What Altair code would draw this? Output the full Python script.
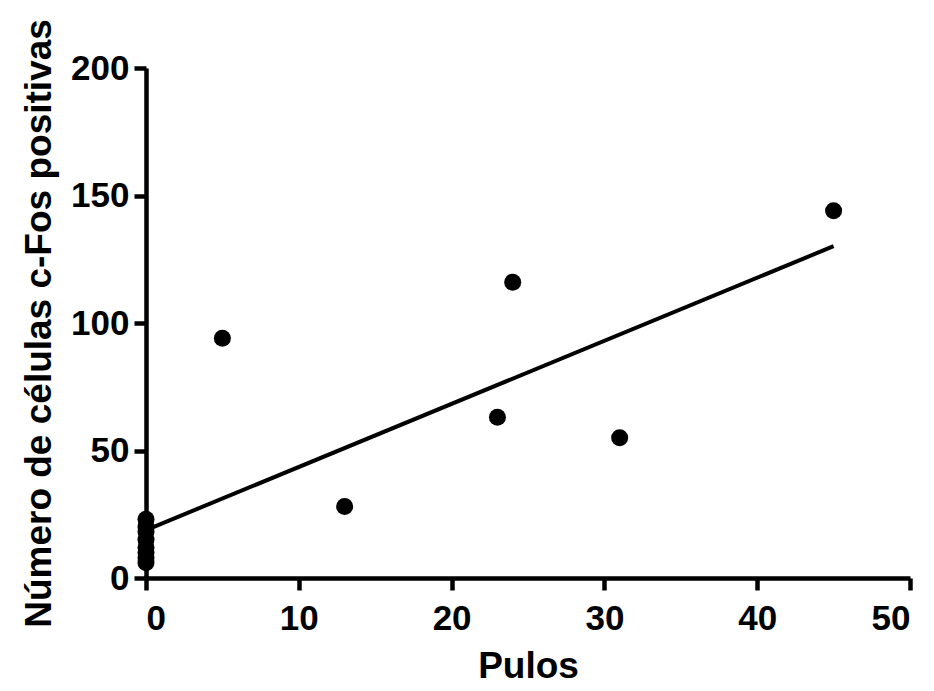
import altair as alt
import pandas as pd

# Data
pulos = [0, 0, 0, 0, 0, 0, 0, 0, 5, 13, 23, 24, 31, 45]
celulas = [6, 8, 10, 12, 15, 18, 20, 23, 94, 28, 63, 116, 55, 144]

df = pd.DataFrame({"Pulos": pulos, "Celulas": celulas})

FONT = "Liberation Sans"

x_enc = alt.X("Pulos:Q",
              scale=alt.Scale(domain=[0, 50], nice=False, zero=True),
              axis=alt.Axis(title="Pulos", values=[0, 10, 20, 30, 40, 50],
                            titlePadding=12))
y_enc = alt.Y("Celulas:Q",
              scale=alt.Scale(domain=[0, 200], nice=False),
              axis=alt.Axis(title="Número de células c-Fos positivas",
                            values=[0, 50, 100, 150, 200], titlePadding=12))

points = alt.Chart(df).mark_circle(size=290, color="black", opacity=1).encode(
    x=x_enc, y=y_enc)

line = alt.Chart(df).transform_regression(
    "Pulos", "Celulas").mark_line(color="black", strokeWidth=4).encode(
    x=x_enc, y=y_enc)

chart = (line + points).properties(
    width=764, height=510,
    autosize=alt.AutoSizeParams(type="none"),
    padding={"left": 138, "top": 60, "right": 16, "bottom": 112},
).configure_view(stroke=None).configure_axis(
    grid=False,
    domainColor="black", domainWidth=4.5,
    tickColor="black", tickWidth=4.5, tickSize=12,
    labelFont=FONT, labelFontSize=35, labelFontWeight="bold", labelColor="black",
    labelPadding=5,
    titleFont=FONT, titleFontSize=37, titleFontWeight="bold", titleColor="black",
).configure_axisX(labelPadding=11)

chart.save("out.html", embed_options={"renderer": "svg", "actions": False})
